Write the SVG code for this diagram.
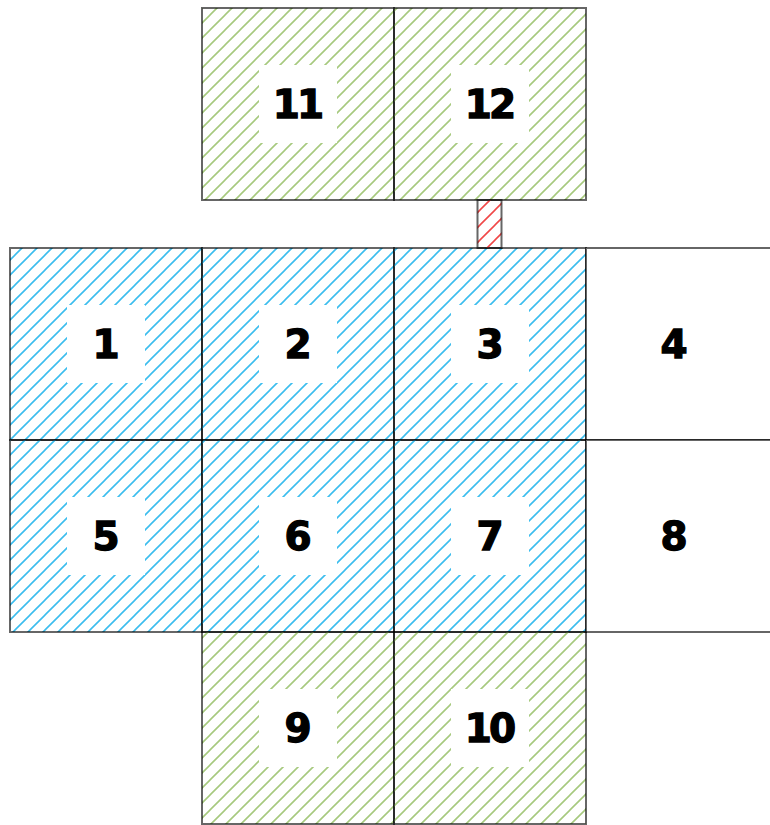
<svg xmlns="http://www.w3.org/2000/svg" width="770" height="825" viewBox="0 0 770 825">
<defs>
<pattern id="hb" patternUnits="userSpaceOnUse" width="15" height="15"><path d="M0,15 L15,0 M-4,4 L4,-4 M11,19 L19,11" stroke="#3bbdee" stroke-width="1.6"/></pattern>
<pattern id="hg" patternUnits="userSpaceOnUse" width="15" height="15"><path d="M0,15 L15,0 M-4,4 L4,-4 M11,19 L19,11" stroke="#a6c97e" stroke-width="1.6"/></pattern>
<pattern id="hr" patternUnits="userSpaceOnUse" width="15" height="15"><path d="M0,15 L15,0 M-4,4 L4,-4 M11,19 L19,11" stroke="#f04848" stroke-width="1.6"/></pattern>
</defs>
<style>
.c{stroke:rgba(0,0,0,0.6);stroke-width:2}
.b{fill:url(#hb)}
.g{fill:url(#hg)}
.r{fill:url(#hr)}
.w{fill:#fff}
.box{fill:#fff}
.t{font-family:"DejaVu Sans",Verdana,sans-serif;font-weight:bold;font-size:39px;fill:#000;stroke:#000;stroke-width:1.3;text-anchor:middle}
.t2{letter-spacing:-3px}
</style>
<rect width="770" height="825" fill="#fff"/>
<g id="node-11"><rect class="c g" x="202" y="8" width="192" height="192"/><rect class="box" x="259" y="65" width="78" height="78"/><text class="t t2" x="297" y="118">11</text></g>
<g id="node-12"><rect class="c g" x="394" y="8" width="192" height="192"/><rect class="box" x="451" y="65" width="78" height="78"/><text class="t t2" x="489" y="118">12</text></g>
<g id="node-1"><rect class="c b" x="10" y="248" width="192" height="192"/><rect class="box" x="67" y="305" width="78" height="78"/><text class="t" x="106" y="358">1</text></g>
<g id="node-2"><rect class="c b" x="202" y="248" width="192" height="192"/><rect class="box" x="259" y="305" width="78" height="78"/><text class="t" x="298" y="358">2</text></g>
<g id="node-3"><rect class="c b" x="394" y="248" width="192" height="192"/><rect class="box" x="451" y="305" width="78" height="78"/><text class="t" x="490" y="358">3</text></g>
<g id="node-4"><rect class="c w" x="586" y="248" width="200" height="192"/><text class="t" x="674" y="358">4</text></g>
<g id="node-5"><rect class="c b" x="10" y="440" width="192" height="192"/><rect class="box" x="67" y="497" width="78" height="78"/><text class="t" x="106" y="550">5</text></g>
<g id="node-6"><rect class="c b" x="202" y="440" width="192" height="192"/><rect class="box" x="259" y="497" width="78" height="78"/><text class="t" x="298" y="550">6</text></g>
<g id="node-7"><rect class="c b" x="394" y="440" width="192" height="192"/><rect class="box" x="451" y="497" width="78" height="78"/><text class="t" x="490" y="550">7</text></g>
<g id="node-8"><rect class="c w" x="586" y="440" width="200" height="192"/><text class="t" x="674" y="550">8</text></g>
<g id="node-9"><rect class="c g" x="202" y="632" width="192" height="192"/><rect class="box" x="259" y="689" width="78" height="78"/><text class="t" x="298" y="742">9</text></g>
<g id="node-10"><rect class="c g" x="394" y="632" width="192" height="192"/><rect class="box" x="451" y="689" width="78" height="78"/><text class="t t2" x="489" y="742">10</text></g>
<g id="connectors"><rect class="c r" x="477.5" y="200" width="24" height="48"/></g>
</svg>
